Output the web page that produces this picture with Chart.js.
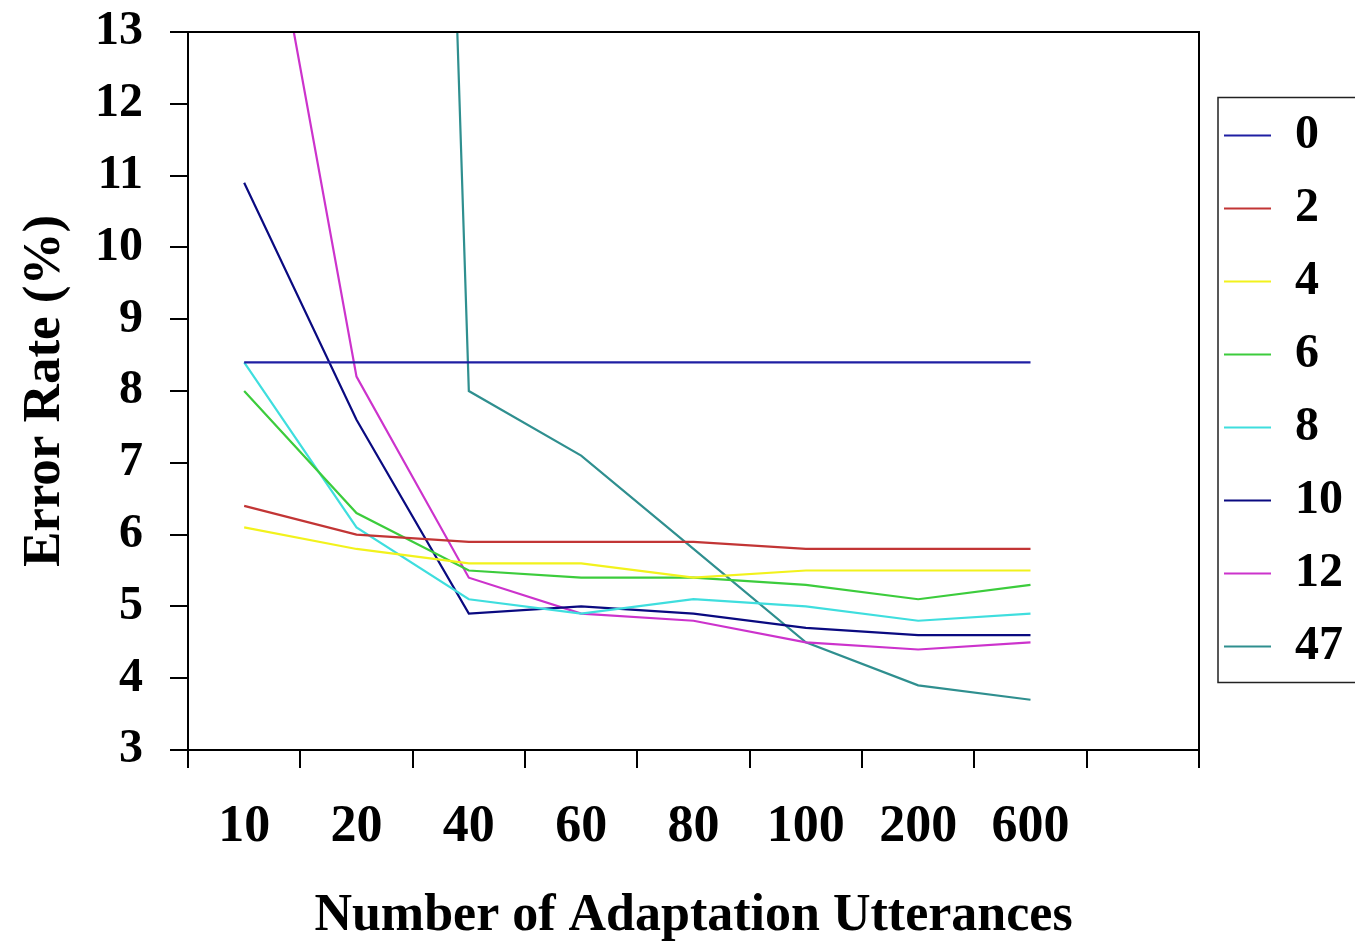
<!DOCTYPE html>
<html>
<head>
<meta charset="utf-8">
<script src="https://cdn.jsdelivr.net/npm/chart.js@4.4.1/dist/chart.umd.min.js"></script>
<style>
  html, body { margin: 0; padding: 0; background: #ffffff; }
  #wrap { width: 1355px; height: 948px; }
</style>
</head>
<body>
<div id="wrap"><canvas id="c" width="1355" height="948"></canvas></div>
<script>
// ---- data ----
const categories = ['10', '20', '40', '60', '80', '100', '200', '600', ''];
const seriesNames = ['0', '2', '4', '6', '8', '10', '12', '47'];
const s0  = [8.4, 8.4, 8.4, 8.4, 8.4, 8.4, 8.4, 8.4];
const s2  = [6.4, 6.0, 5.9, 5.9, 5.9, 5.8, 5.8, 5.8];
const s4  = [6.1, 5.8, 5.6, 5.6, 5.4, 5.5, 5.5, 5.5];
const s6  = [8.0, 6.3, 5.5, 5.4, 5.4, 5.3, 5.1, 5.3];
const s8  = [8.4, 6.1, 5.1, 4.9, 5.1, 5.0, 4.8, 4.9];
const s10 = [10.9, 7.6, 4.9, 5.0, 4.9, 4.7, 4.6, 4.6];
const s12 = [16.8, 8.2, 5.4, 4.9, 4.8, 4.5, 4.4, 4.5];
const s47 = [null, 56.7, 8.0, 7.1, 5.8, 4.5, 3.9, 3.7];
const yTicks = { min: 3, max: 13, step: 1 };
const xTitle = 'Number of Adaptation Utterances';
const yTitle = 'Error Rate (%)';

const seriesValues = [s0, s2, s4, s6, s8, s10, s12, s47];
const seriesColors = ['#1f1fa3', '#c23535', '#f2f21c', '#3ccc3c', '#3fdede', '#0a0a80', '#cc33cc', '#2f8f8f'];

const SERIF = '"Liberation Serif", "Times New Roman", serif';
Chart.defaults.color = '#000';

const frame = {
  id: 'frame',
  afterDraw(chart) {
    const a = chart.chartArea, ctx = chart.ctx;
    ctx.save();
    ctx.strokeStyle = '#000';
    ctx.lineWidth = 2;
    ctx.strokeRect(a.left, a.top, a.right - a.left, a.bottom - a.top);
    // legend box
    const lg = chart.legend;
    if (lg && lg.legendHitBoxes && lg.legendHitBoxes.length) {
      const hb = lg.legendHitBoxes;
      const first = hb[0], last = hb[hb.length - 1];
      const l = first.left - 6, t = first.top - 14;
      const b = last.top + last.height + 12;
      ctx.lineWidth = 1.5;
      ctx.strokeStyle = '#222';
      ctx.strokeRect(l, t, chart.width + 10 - l, b - t);
    }
    ctx.restore();
  }
};

new Chart(document.getElementById('c'), {
  type: 'line',
  data: {
    labels: categories,
    datasets: seriesValues.map((vals, i) => ({
      label: seriesNames[i],
      data: vals,
      borderColor: seriesColors[i],
      backgroundColor: seriesColors[i],
      borderWidth: 2.2,
      pointRadius: 0,
      pointHoverRadius: 0,
      tension: 0,
      fill: false
    }))
  },
  options: {
    responsive: false,
    animation: false,
    devicePixelRatio: 1,
    layout: { padding: { top: 32, right: 2, bottom: 0, left: 0 } },
    plugins: {
      tooltip: { enabled: false },
      legend: {
        position: 'right',
        fullSize: false,
        align: 'center',
        labels: {
          usePointStyle: true,
          pointStyle: 'line',
          pointStyleWidth: 47,
          padding: 25,
          color: '#000',
          font: { family: SERIF, size: 48, weight: 'bold' }
        }
      }
    },
    scales: {
      x: {
        type: 'category',
        offset: true,
        grid: { display: true, offset: true, drawOnChartArea: false, drawTicks: true, tickLength: 18, color: '#000', lineWidth: 2 },
        border: { display: true, color: '#000', width: 2 },
        ticks: { padding: 28, autoSkip: false, maxRotation: 0, color: '#000', font: { family: SERIF, size: 52, weight: 'bold' } },
        title: { display: true, text: xTitle, color: '#000', padding: { top: 0, bottom: 0 }, font: { family: SERIF, size: 52, weight: 'bold' } },
        afterFit(s) { s.height = 198; }
      },
      y: {
        type: 'linear',
        min: yTicks.min,
        max: yTicks.max,
        grid: { display: true, drawOnChartArea: false, drawTicks: true, tickLength: 18, color: '#000', lineWidth: 2 },
        border: { display: true, color: '#000', width: 2 },
        ticks: { stepSize: yTicks.step, padding: 27, color: '#000', font: { family: SERIF, size: 48, weight: 'bold', lineHeight: 0.2 } },
        title: { display: true, text: yTitle, color: '#000', padding: { top: 14, bottom: 0 }, font: { family: SERIF, size: 53, weight: 'bold' } },
        afterFit(s) { s.width = 188; }
      }
    }
  },
  plugins: [frame]
});
</script>
</body>
</html>
